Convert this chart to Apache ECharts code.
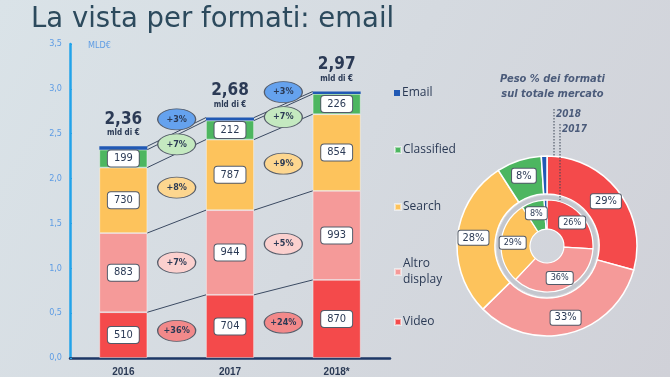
<!DOCTYPE html>
<html>
<head>
<meta charset="utf-8">
<script src="https://cdn.jsdelivr.net/npm/echarts@6/dist/echarts.min.js"></script>
<style>
  html, body { margin: 0; padding: 0; }
  #chart { width: 670px; height: 377px; }
</style>
</head>
<body>
<div id="chart"></div>
<script>
// dati (milioni di euro)
const years = ['2016', '2017', '2018*'];
const formats = ['Video', 'Altro display', 'Search', 'Classified', 'Email'];
const video = [510, 704, 870];
const altro = [883, 944, 993];
const search = [730, 787, 854];
const classified = [199, 212, 226];
const email = [38, 33, 27];
// crescita anno su anno, per formato
const growth1617 = ['+36%', '+7%', '+8%', '+7%', '+3%'];
const growth1718 = ['+24%', '+5%', '+9%', '+7%', '+3%'];
// peso % sul totale mercato
const share2017 = [26, 36, 29, 8, 1];
const share2018 = [29, 33, 28, 8, 1];

const yMax = 3500;
const yStep = 500;

const rows = [video, altro, search, classified, email];
const colors = ['#f44a4b', '#f59a99', '#fdc35c', '#4db660', '#2159b4'];
const pale = ['#f2898a', '#fbd0ce', '#fdd68f', '#c4e9c0', '#65a2ee'];
const ink = '#2b3a55';
const narrow = "'Liberation Sans Narrow','DejaVu Sans Condensed','Roboto Condensed',sans-serif";

// somme cumulate e punti medi dei segmenti
const cum = rows.map((r, k) => r.map((v, i) => rows.slice(0, k + 1).reduce((s, rr) => s + rr[i], 0)));
const mid = rows.map((r, k) => r.map((v, i) => cum[k][i] - v / 2));
const totals = years.map((y, i) => (cum[4][i] / 1000).toFixed(2).replace('.', ','));

// linee di raccordo tra le barre
const linkData = [];
for (let i = 0; i < years.length - 1; i++) {
  for (let k = 0; k < rows.length; k++) {
    linkData.push([i, cum[k][i], cum[k][i + 1]]);
  }
}

// ellissi con la crescita (email sopra classified, spostata in alto)
const growthData = [];
[growth1617, growth1718].forEach((g, p) => {
  g.forEach((txt, k) => {
    const kk = k === 4 ? 3 : k;
    growthData.push({
      value: [p + 0.5, (mid[kk][p] + mid[kk][p + 1]) / 2],
      name: txt,
      symbolOffset: k === 4 ? [0, -25] : [0, 0],
      itemStyle: { color: pale[k] }
    });
  });
});

const barSeries = rows.map((r, k) => ({
  name: formats[k],
  type: 'bar',
  stack: 'tot',
  barWidth: 48,
  data: r,
  itemStyle: { color: colors[k], borderColor: k < 4 ? 'rgba(255,255,255,0.5)' : colors[k], borderWidth: k < 4 ? 0.8 : 0 },
  label: k < 4 ? {
    show: true,
    position: 'inside',
    formatter: '{c}',
    backgroundColor: '#fff',
    borderColor: '#525a68',
    borderWidth: 1,
    borderRadius: 3,
    padding: [3, 6, 2, 6],
    color: ink,
    fontSize: 11,
    fontFamily: narrow
  } : {
    show: true,
    position: 'top',
    distance: 8,
    formatter: p => '{t|' + totals[p.dataIndex] + '}\n{u|mld di €}',
    rich: {
      t: { fontSize: 17, fontWeight: 'bold', color: ink, fontFamily: narrow, lineHeight: 17, align: 'center' },
      u: { fontSize: 8, fontWeight: 'bold', color: ink, fontFamily: narrow, lineHeight: 10, align: 'center' }
    }
  }
}));

const pieLabel = size => ({
  position: 'inside',
  formatter: '{c}%',
  backgroundColor: '#fff',
  borderColor: '#525a68',
  borderWidth: 1,
  borderRadius: 2,
  padding: [2, 4, 1, 4],
  color: ink,
  fontSize: size,
  fontFamily: narrow
});

const pieData = shares => shares.map((v, k) => ({
  name: formats[k],
  value: v,
  itemStyle: { color: colors[k] },
  label: { show: k < 4 }
}));

const legendTop = [314, 256, 199, 142, 85];
const legends = formats.map((f, k) => ({
  data: [f],
  left: 394,
  top: legendTop[k],
  orient: 'vertical',
  icon: 'rect',
  itemWidth: 6,
  itemHeight: 6,
  padding: 0,
  selectedMode: false,
  formatter: n => n.replace(' ', '\n'),
  textStyle: { color: ink, fontSize: 12, fontFamily: "'Open Sans',sans-serif", lineHeight: 16, padding: [0, 0, 0, -3] }
}));

const chart = echarts.init(document.getElementById('chart'));
chart.setOption({
  backgroundColor: new echarts.graphic.LinearGradient(0, 0, 1, 1, [
    { offset: 0, color: '#dae3e8' },
    { offset: 1, color: '#d0d1d8' }
  ]),
  animation: false,
  title: {
    text: 'La vista per formati: email',
    left: 31,
    top: 6,
    padding: 0,
    textStyle: { fontSize: 27.5, fontWeight: 'normal', color: '#2c4a5d', fontFamily: "'DejaVu Sans',sans-serif" }
  },
  legend: legends,
  grid: { left: 70, right: 280, top: 44, bottom: 19 },
  xAxis: [{
    type: 'category',
    data: years,
    axisLine: { lineStyle: { color: '#1d3766', width: 2.5 } },
    axisTick: { length: 3, lineStyle: { color: '#1d3766', width: 2 } },
    axisLabel: { color: ink, fontSize: 10, fontWeight: 'bold', margin: 9, fontFamily: "'Liberation Sans',Arial,sans-serif" }
  }, {
    type: 'value',
    min: -0.5,
    max: 2.5,
    show: false
  }],
  yAxis: {
    type: 'value',
    min: 0,
    max: yMax,
    interval: yStep,
    name: 'MLD€',
    nameLocation: 'end',
    nameGap: -2,
    nameTextStyle: { color: '#5e9ce4', fontSize: 9, fontFamily: narrow, align: 'left', verticalAlign: 'middle', padding: [0, 0, 0, 18] },
    axisLine: { show: true, onZero: false, lineStyle: { color: '#22a3ea', width: 2.5 } },
    axisTick: { show: true, inside: true, length: 2, lineStyle: { color: '#22a3ea' } },
    splitLine: { show: false },
    axisLabel: { color: '#5e9ce4', fontSize: 9, margin: 8, fontFamily: narrow, formatter: v => (v / 1000).toFixed(1).replace('.', ',') }
  },
  series: barSeries.concat([
    {
      type: 'custom',
      xAxisIndex: 1,
      silent: true,
      z: 3,
      data: linkData,
      encode: { x: 0, y: 1 },
      renderItem: (params, api) => {
        const a = api.coord([api.value(0), api.value(1)]);
        const b = api.coord([api.value(0) + 1, api.value(2)]);
        return {
          type: 'line',
          shape: { x1: a[0] + 24, y1: a[1], x2: b[0] - 24, y2: b[1] },
          style: { stroke: '#3b4a62', lineWidth: 1 }
        };
      }
    },
    {
      type: 'scatter',
      xAxisIndex: 1,
      silent: true,
      z: 4,
      symbol: 'circle',
      symbolSize: [38, 21],
      itemStyle: { borderColor: '#565d6a', borderWidth: 1, opacity: 1 },
      label: { show: true, position: 'inside', formatter: '{b}', color: ink, fontSize: 9, fontWeight: 'bold', fontFamily: narrow },
      data: growthData
    },
    {
      name: '2018',
      type: 'pie',
      center: [547, 246],
      radius: [52, 90],
      startAngle: 90,
      silent: true,
      itemStyle: { borderColor: '#fff', borderWidth: 1.5 },
      label: pieLabel(11),
      labelLine: { show: false },
      data: pieData(share2018)
    },
    {
      type: 'pie',
      center: [547, 246],
      radius: [46, 51],
      silent: true,
      label: { show: false },
      itemStyle: { color: '#c4c7ce', borderColor: '#e8e9ec', borderWidth: 0.5 },
      data: [{ value: 1, name: '' }]
    },
    {
      name: '2017',
      type: 'pie',
      center: [547, 246],
      radius: [17, 46],
      startAngle: 90,
      silent: true,
      itemStyle: { borderColor: '#fff', borderWidth: 1.2 },
      label: pieLabel(9),
      labelLine: { show: false },
      data: pieData(share2017)
    }
  ]),
  graphic: [
    { type: 'text', left: 500, top: 72, style: { text: 'Peso % dei formati\nsul totale mercato', fill: '#4b5b7a', font: "italic bold 11px " + narrow, lineHeight: 15, textAlign: 'center' } },
    { type: 'text', left: 556, top: 109, style: { text: '2018', fill: '#4b5b7a', font: "italic bold 10px " + narrow } },
    { type: 'text', left: 562, top: 124, style: { text: '2017', fill: '#4b5b7a', font: "italic bold 10px " + narrow } },
    { type: 'line', shape: { x1: 554, y1: 109, x2: 554, y2: 157 }, style: { stroke: '#3a4455', lineWidth: 1, lineDash: [1.5, 1.5] }, z: 10 },
    { type: 'line', shape: { x1: 560, y1: 124, x2: 560, y2: 200 }, style: { stroke: '#3a4455', lineWidth: 1, lineDash: [1.5, 1.5] }, z: 10 }
  ]
});
</script>
</body>
</html>
